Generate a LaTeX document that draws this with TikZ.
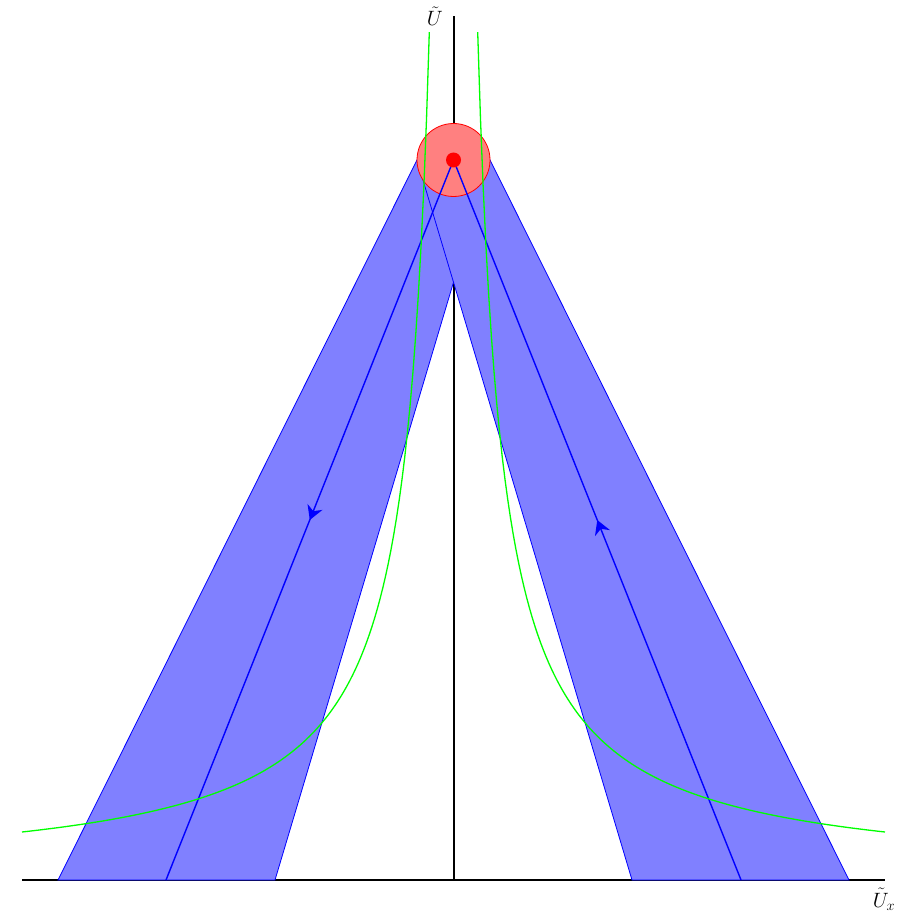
\documentclass[tikz,border=0pt]{standalone}
\usetikzlibrary{arrows.meta,decorations.markings}
\begin{document}
\begin{tikzpicture}[x=1pt,y=-1pt,
  axis/.style={line width=2pt,black},
  band/.style={fill=blue!50,draw=blue,line width=0.8pt,line join=miter},
  traj/.style={blue,line width=1.4pt,postaction={decorate},
    decoration={markings,mark=at position 0.5 with {\arrow{Stealth[length=14pt,width=16pt,inset=4.5pt]}}}},
  hyp/.style={green,line width=1.3pt},
  lbl/.style={font=\fontsize{20}{24}\selectfont,inner sep=2pt}]
\useasboundingbox (0,0) rectangle (916,920);
% axes
\coordinate (O) at (453.5,880);
\coordinate (xl) at (22,880);
\coordinate (xr) at (885,880);
\coordinate (yt) at (453.5,16);
\draw[axis] (xl) -- (xr);
\draw[axis] (O) -- (yt);
\node[lbl,anchor=east] (ylab) at (445,16) {$\tilde U$};
\node[lbl,anchor=north] (xlab) at (884,886) {$\tilde U_x$};
% bands
\coordinate (C) at (453.5,160);
\coordinate (Cl) at (417,160);
\coordinate (Cr) at (490,160);
\coordinate (L1) at (58,880);
\coordinate (L2) at (275,880);
\coordinate (R1) at (849,880);
\coordinate (R2) at (632,880);
\draw[band] (L1) -- (L2) -- (Cr) -- (Cl) -- cycle;
\draw[band] (R1) -- (R2) -- (Cl) -- (Cr) -- cycle;
% red region
\draw[red,fill=red!50,line width=0.8pt] (C) circle (36.5);
% trajectories
\coordinate (Lb) at (166,880);
\coordinate (Rb) at (741,880);
\draw[traj] (C) -- (Lb);
\draw[traj] (Rb) -- (C);
% green curves
\draw[hyp] plot[domain=-431.5:-24.2,samples=150] ({453.5+\x},{880-207.23/((0.24-\x)/100)});
\draw[hyp] plot[domain=24.2:431.5,samples=150] ({453.5+\x},{880-207.23/((\x+0.24)/100)});
% fixed point
\node[circle,fill=red,inner sep=0pt,minimum size=15pt] (dot) at (C) {};
\end{tikzpicture}
\end{document}
